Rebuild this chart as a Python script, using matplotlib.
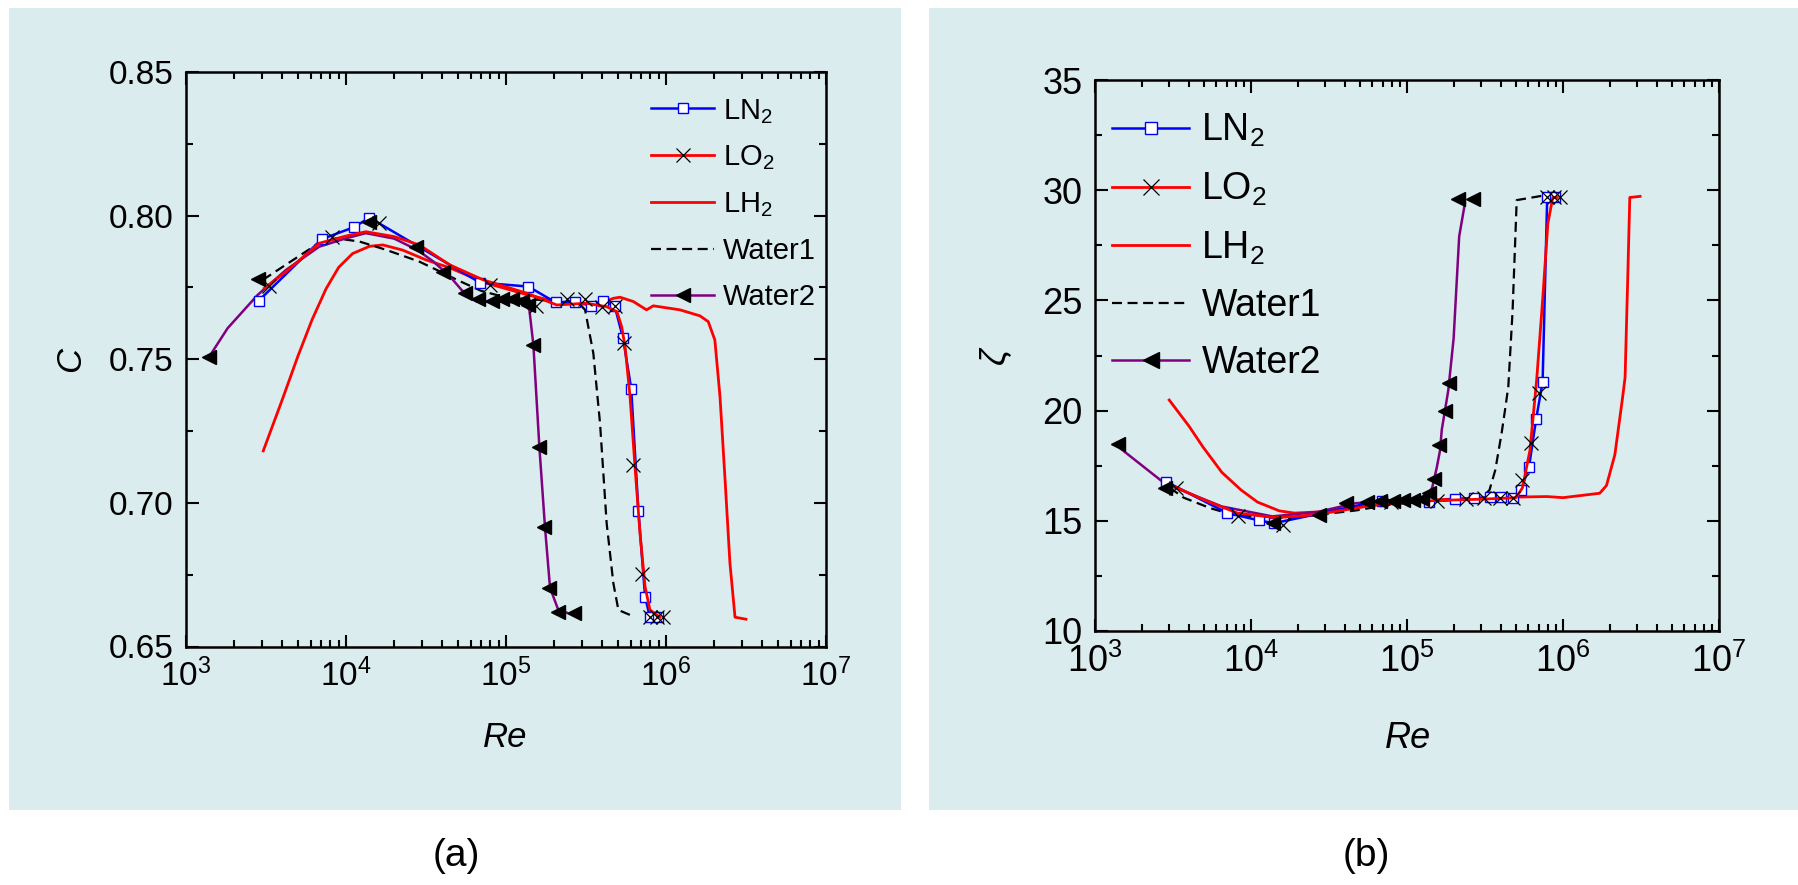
import matplotlib
matplotlib.use("Agg")
import matplotlib.pyplot as plt
from matplotlib.lines import Line2D
from matplotlib.patches import Rectangle
from matplotlib.ticker import LogLocator, MultipleLocator, NullFormatter, FormatStrFormatter

plt.rcParams['font.family'] = ['Liberation Sans', 'DejaVu Sans']
plt.rcParams['mathtext.fontset'] = 'custom'
plt.rcParams['mathtext.rm'] = 'Liberation Sans'
plt.rcParams['mathtext.it'] = 'Liberation Sans:italic'

# ---------------- data ----------------
# LN2 (line through square markers)
re_ln2 = [2850, 7050, 11250, 14000, 68700, 138000, 204000, 270000, 341000, 403000,
          477000, 539000, 606000, 672000, 740000, 792000, 885000]
c_ln2 = [0.7704, 0.7918, 0.7960, 0.7993, 0.7767, 0.7753, 0.7698, 0.7701, 0.7687, 0.7703,
         0.7687, 0.7573, 0.7398, 0.6973, 0.6673, 0.6604, 0.6602]
z_ln2 = [16.78, 15.35, 15.02, 14.89, 15.92, 15.87, 15.98, 16.03, 16.07, 16.07,
         16.04, 16.40, 17.46, 19.60, 21.30, 29.67, 29.67]

# LO2 markers
re_lo2 = [3300, 8200, 16100, 79400, 155000, 239000, 312000, 397000, 480000, 550000,
          626000, 704000, 794000, 875000, 961000]
c_lo2 = [0.7755, 0.7925, 0.7976, 0.7759, 0.7687, 0.7709, 0.7709, 0.7683, 0.7687, 0.7558,
         0.7132, 0.6751, 0.6603, 0.6603, 0.6603]
z_lo2 = [16.48, 15.20, 14.79, 15.85, 15.92, 16.00, 16.05, 16.05, 16.05, 16.83,
         18.54, 20.78, 29.67, 29.67, 29.67]
# LO2 curves
re_lo2_ca = [3085, 4217, 6810, 10000, 13300, 20000, 28700, 44700, 72200, 134600, 207500,
             317000, 425500, 493000, 528000, 555000, 596000, 640000, 688000, 740000,
             794000, 917000]
c_lo2_line = [0.7747, 0.7805, 0.7904, 0.7929, 0.7944, 0.7927, 0.7898, 0.7828, 0.7776, 0.7730,
              0.7689, 0.7695, 0.7683, 0.7666, 0.7614, 0.7544, 0.7370, 0.7126, 0.6894, 0.6708,
              0.6627, 0.6602]
re_lo2_cb = [3000, 5000, 8200, 14000, 20000, 30000, 60000, 150000, 300000, 500000, 550000,
             614000, 678000, 740000, 800000, 860000, 920000]
z_lo2_line = [16.65, 15.95, 15.35, 15.15, 15.20, 15.35, 15.70, 15.92, 15.98, 16.05, 16.50,
              18.20, 21.40, 25.00, 28.50, 29.67, 29.67]

# LH2 curves
re_lh2_a = [3040, 4000, 5000, 6130, 7500, 9000, 11000, 14000, 17000, 22600, 31600, 44700,
            72200, 134600, 207500, 300000, 387000, 468600, 515700, 624600, 756000, 833000,
            1223000, 1631000, 1837000, 2020000, 2175000, 2340000, 2510000, 2700000, 3160000]
c_lh2 = [0.7181, 0.7360, 0.7510, 0.7637, 0.7745, 0.7820, 0.7868, 0.7893, 0.7898, 0.7880,
         0.7846, 0.7818, 0.7768, 0.7725, 0.7700, 0.7692, 0.7695, 0.7712, 0.7716, 0.7701,
         0.7672, 0.7686, 0.7672, 0.7651, 0.7631, 0.7567, 0.7370, 0.7080, 0.6790, 0.6602,
         0.6595]
re_lh2_b = [2990, 4000, 4910, 6500, 8630, 11000, 15200, 19000, 29900, 62300, 145000, 449000,
            789000, 1000000, 1720000, 1900000, 2150000, 2400000, 2500000, 2600000, 2680000,
            3120000]
z_lh2 = [20.48, 19.30, 18.36, 17.20, 16.40, 15.85, 15.45, 15.35, 15.42, 15.72, 15.95, 16.07,
         16.10, 16.05, 16.25, 16.60, 18.00, 20.50, 21.50, 26.00, 29.67, 29.72]

# Water1 (dashed)
re_w1_a = [3015, 6494, 8660, 12100, 17780, 28700, 36900, 50000, 70000, 100000, 200000,
           280000, 312000, 351400, 387000, 425700, 468800, 504000, 595000]
c_w1 = [0.7776, 0.7898, 0.7921, 0.7910, 0.7881, 0.7840, 0.7811, 0.7775, 0.7738, 0.7715,
        0.7703, 0.7700, 0.7672, 0.7521, 0.7277, 0.6929, 0.6720, 0.6627, 0.6610]
re_w1_b = [3015, 3700, 5500, 7700, 17000, 33500, 47000, 80000, 150000, 300000, 338000,
           368000, 404000, 425000, 446000, 475000, 505000, 740000]
z_w1 = [16.50, 16.05, 15.57, 15.27, 15.12, 15.35, 15.47, 15.75, 15.90, 16.00, 16.40,
        17.30, 18.97, 20.03, 21.08, 24.50, 29.55, 29.75]

# Water2 markers
re_w2 = [1400, 2800, 13900, 27300, 40600, 55500, 67200, 81400, 94000, 108600, 125400,
         137800, 148000, 160000, 174000, 186000, 212000, 265000]
c_w2 = [0.7509, 0.7779, 0.7979, 0.7890, 0.7805, 0.7730, 0.7709, 0.7703, 0.7709, 0.7709,
        0.7703, 0.7689, 0.7550, 0.7196, 0.6915, 0.6705, 0.6619, 0.6618]
z_w2 = [18.47, 16.51, 14.89, 15.27, 15.83, 15.85, 15.88, 15.90, 15.93, 15.95, 15.98,
        16.25, 16.89, 18.44, 19.99, 21.23, 29.60, 29.60]
# Water2 curves
re_w2_ca = [1398, 1820, 2805, 4217, 6810, 10000, 13300, 20000, 28000, 35200, 44700, 52800,
            65600, 100000, 130000, 140000, 148300, 161600, 175300, 188400, 212300, 239000]
c_w2_line = [0.7509, 0.7608, 0.7724, 0.7811, 0.7892, 0.7921, 0.7939, 0.7920, 0.7880, 0.7840,
             0.7788, 0.7741, 0.7701, 0.7700, 0.7695, 0.7672, 0.7550, 0.7196, 0.6915, 0.6705,
             0.6627, 0.6618]
re_w2_cb = [1403, 2793, 6500, 13700, 26700, 46900, 90000, 130000, 145000, 155000, 163000,
            167000, 184000, 199000, 216000, 235000]
z_w2_line = [18.37, 16.70, 15.65, 15.20, 15.40, 15.80, 15.92, 16.00, 16.50, 17.40, 18.21,
             19.12, 20.93, 23.27, 27.90, 29.40]

labels = ['LN$_2$', 'LO$_2$', 'LH$_2$', 'Water1', 'Water2']

BLUE = '#0000ff'
RED = '#ff0000'
PURPLE = '#800080'
PANEL = '#daecee'
DASH = (0, (4.5, 2.5))

fig = plt.figure(figsize=(17.99, 8.85), dpi=100)
fig.patch.set_facecolor('white')
fig.add_artist(Rectangle((9 / 1799, 1 - 810 / 885), 892 / 1799, 802 / 885,
                         transform=fig.transFigure, facecolor=PANEL, edgecolor='none', zorder=0))
fig.add_artist(Rectangle((929 / 1799, 1 - 810 / 885), 870 / 1799, 802 / 885,
                         transform=fig.transFigure, facecolor=PANEL, edgecolor='none', zorder=0))

ax1 = fig.add_axes([186 / 1799, 1 - 646.5 / 885, 640 / 1799, 574.5 / 885])
ax2 = fig.add_axes([1095 / 1799, 1 - 631 / 885, 624 / 1799, 551 / 885])


def draw(ax, yln2, ylo2, ylo2_line, re_lo2_line, re_lh2, ylh2, re_w1, yw1,
         yw2, re_w2_line, yw2_line):
    ax.set_facecolor('none')
    ax.plot(re_lh2, ylh2, color=RED, lw=2.0, zorder=3)
    ax.plot(re_w1, yw1, color='black', lw=1.6, ls=DASH, zorder=3)
    ax.plot(re_w2_line, yw2_line, color=PURPLE, lw=1.8, zorder=3)
    ax.plot(re_ln2, yln2, color=BLUE, lw=1.8, marker='s', ms=7, mfc='white',
            mec=BLUE, mew=1.0, zorder=4)
    ax.plot(re_lo2_line, ylo2_line, color=RED, lw=2.0, zorder=4)
    ax.plot(re_lo2, ylo2, ls='none', marker='x', ms=10, mec='black', mew=0.9, zorder=5)
    ax.plot(re_w2, yw2, ls='none', marker='<', ms=10, mfc='black', mec='black', zorder=5)

    ax.set_xscale('log')
    ax.set_xlim(1e3, 1e7)
    ax.xaxis.set_major_locator(LogLocator(base=10, numticks=10))
    ax.xaxis.set_minor_locator(LogLocator(base=10, subs=range(2, 10), numticks=20))
    ax.xaxis.set_minor_formatter(NullFormatter())
    ax.tick_params(which='both', direction='in', top=True, right=True, width=1.5)
    ax.tick_params(which='major', length=9, pad=9)
    ax.tick_params(which='minor', length=5)
    for s in ax.spines.values():
        s.set_linewidth(1.8)


def handles(scale):
    return [
        Line2D([], [], color=BLUE, lw=1.8, marker='s', ms=7 * scale, mfc='white', mec=BLUE, mew=1.0),
        Line2D([], [], color=RED, lw=2.0, marker='x', ms=10 * scale, mec='black', mew=0.9),
        Line2D([], [], color=RED, lw=2.0),
        Line2D([], [], color='black', lw=1.6, ls=DASH),
        Line2D([], [], color=PURPLE, lw=1.8, marker='<', ms=10 * scale, mfc='black', mec='black'),
    ]


# ---- panel (a) ----
draw(ax1, c_ln2, c_lo2, c_lo2_line, re_lo2_ca, re_lh2_a, c_lh2, re_w1_a, c_w1,
     c_w2, re_w2_ca, c_w2_line)
ax1.set_ylim(0.65, 0.85)
ax1.yaxis.set_major_locator(MultipleLocator(0.05))
ax1.yaxis.set_minor_locator(MultipleLocator(0.025))
ax1.yaxis.set_major_formatter(FormatStrFormatter('%.2f'))
ax1.tick_params(labelsize=24)
ax1.set_xlabel('Re', fontsize=25, fontstyle='italic')
ax1.set_ylabel('C', fontsize=25, fontstyle='italic')
ax1.xaxis.set_label_coords(0.498, -0.130)
ax1.yaxis.set_label_coords(-0.155, 0.5)
ax1.legend(handles(1.0), labels, loc='upper left', bbox_to_anchor=(0.727, 0.957),
           frameon=False, fontsize=21, borderpad=0, borderaxespad=0,
           handlelength=2.15, handletextpad=0.3, labelspacing=0.62)

# ---- panel (b) ----
draw(ax2, z_ln2, z_lo2, z_lo2_line, re_lo2_cb, re_lh2_b, z_lh2, re_w1_b, z_w1,
     z_w2, re_w2_cb, z_w2_line)
ax2.set_ylim(10, 35)
ax2.yaxis.set_major_locator(MultipleLocator(5))
ax2.yaxis.set_minor_locator(MultipleLocator(2.5))
ax2.tick_params(labelsize=26)
ax2.set_xlabel('Re', fontsize=26, fontstyle='italic')
ax2.set_ylabel('ζ', fontsize=26, fontstyle='italic')
ax2.xaxis.set_label_coords(0.502, -0.164)
ax2.yaxis.set_label_coords(-0.133, 0.5)
ax2.legend(handles(1.2), labels, loc='upper left', bbox_to_anchor=(0.027, 0.942),
           frameon=False, fontsize=27, borderpad=0, borderaxespad=0,
           handlelength=2.07, handletextpad=0.32, labelspacing=0.57)

fig.text(456 / 1799, 1 - 856 / 885, '(a)', fontsize=28, ha='center', va='center')
fig.text(1366 / 1799, 1 - 856 / 885, '(b)', fontsize=28, ha='center', va='center')

fig.savefig('out.png', dpi=100, facecolor='white')
